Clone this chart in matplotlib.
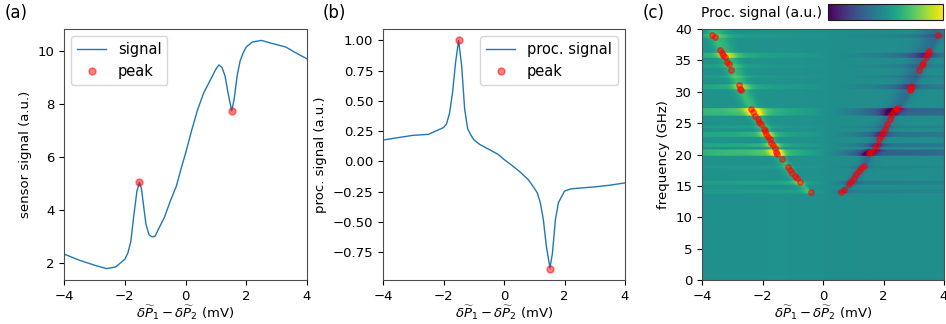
import numpy as np
import matplotlib.pyplot as plt

# panel (a): raw sensor signal
xa = [-4.0, -3.5, -3.0, -2.6, -2.3, -2.0, -1.9, -1.8, -1.7, -1.6, -1.52, -1.45, -1.4, -1.3, -1.2, -1.1,
      -1.0, -0.9, -0.7, -0.5, -0.3, -0.1, 0.0, 0.2, 0.4, 0.6, 0.8, 1.0, 1.1, 1.2, 1.3, 1.4, 1.52,
      1.6, 1.7, 1.8, 1.9, 2.0, 2.2, 2.5, 2.8, 3.0, 3.3, 3.6, 4.0]
ya = [2.32, 2.09, 1.90, 1.77, 1.83, 2.12, 2.35, 2.8, 3.8, 4.7, 5.04, 4.8, 4.33, 3.44, 3.05, 2.97,
      3.0, 3.24, 3.7, 4.33, 4.9, 5.74, 6.13, 7.0, 7.8, 8.43, 8.88, 9.33, 9.49, 9.4, 9.08, 8.43, 7.75,
      8.18, 9.08, 9.65, 9.95, 10.17, 10.36, 10.42, 10.32, 10.26, 10.17, 9.97, 9.72]
peak_a_x = [-1.52, 1.52]
peak_a_y = [5.05, 7.75]

# panel (b): processed signal
xb = [-4.0, -3.5, -3.0, -2.5, -2.0, -1.9, -1.8, -1.7, -1.6, -1.5, -1.4, -1.3, -1.2, -1.1,
      -1.0, -0.8, -0.5, -0.2, 0.0, 0.3, 0.5, 0.8, 1.0, 1.1, 1.2, 1.3, 1.4, 1.52, 1.6, 1.7,
      1.8, 2.0, 2.2, 2.5, 3.0, 3.5, 4.0]
yb = [0.177, 0.197, 0.216, 0.224, 0.28, 0.31, 0.40, 0.57, 0.82, 1.0, 0.79, 0.43, 0.27, 0.22,
      0.18, 0.14, 0.10, 0.06, 0.017, -0.04, -0.08, -0.15, -0.22, -0.26, -0.34, -0.48, -0.70, -0.88, -0.76, -0.48,
      -0.34, -0.245, -0.227, -0.22, -0.21, -0.196, -0.177]
peak_b_x = [-1.5, 1.52]
peak_b_y = [1.0, -0.885]

# panel (c): fitted peak positions
left_x = [-3.66, -3.58, -3.39, -3.34, -3.30, -3.24, -3.16, -3.11, -3.03, -2.79, -2.74, -2.72,
          -2.37, -2.31, -2.24, -2.15, -2.10, -2.04, -1.96, -1.93, -1.87, -1.82, -1.76, -1.71,
          -1.65, -1.60, -1.54, -1.51, -1.36, -1.16, -1.10, -1.02, -0.94, -0.86, -0.77, -0.41]
left_f = [39.0, 38.7, 36.6, 36.2, 35.9, 35.5, 34.8, 34.4, 33.5, 31.0, 30.5, 30.2,
          27.2, 26.8, 26.1, 25.6, 25.2, 24.8, 24.0, 23.7, 23.2, 22.8, 22.4, 21.9,
          21.5, 21.0, 20.4, 20.1, 19.3, 18.0, 17.6, 17.1, 16.6, 16.2, 15.6, 14.0]
right_x = [0.58, 0.68, 0.86, 0.94, 1.01, 1.10, 1.18, 1.27, 1.34, 1.51, 1.60, 1.71, 1.79,
           1.85, 1.91, 1.98, 2.06, 2.13, 2.20, 2.26, 2.34, 2.40, 2.49, 2.86, 2.90, 2.92,
           3.17, 3.26, 3.31, 3.42, 3.46, 3.51, 3.80]
right_f = [14.0, 14.4, 15.3, 15.8, 16.3, 16.9, 17.3, 17.8, 18.2, 20.2, 20.4, 20.8, 21.5,
           22.4, 22.9, 23.6, 24.1, 24.9, 25.7, 26.3, 27.0, 27.2, 27.4, 30.2, 30.5, 30.9,
           33.5, 34.3, 34.6, 35.6, 36.1, 36.5, 39.0]

# frequency bands with stronger response: centre (GHz), half width (GHz), amplitude
band_f = [14.1, 15.6, 18.0, 20.3, 21.5, 23.2, 24.5, 26.6, 27.1, 30.8, 32.4, 34.2, 35.9, 39.0]
band_hw = [0.25, 0.3, 0.2, 0.45, 0.35, 0.35, 0.2, 0.4, 0.3, 0.35, 0.25, 0.3, 0.4, 0.3]
band_amp = [0.3, 0.45, 0.25, 1.0, 0.6, 0.6, 0.3, 0.9, 1.0, 0.5, 0.3, 0.3, 0.6, 0.35]

plt.rcParams['font.size'] = 9.5
plt.rcParams['axes.edgecolor'] = '0.3'

fig = plt.figure(figsize=(9.46, 3.24), dpi=100)
W, H = 946, 324
def box(l, t, r, b):
    return [l / W, 1 - b / H, (r - l) / W, (b - t) / H]

ax1 = fig.add_axes(box(64, 29, 307, 280))
ax2 = fig.add_axes(box(383, 29, 625, 280))
ax3 = fig.add_axes(box(702, 29, 944, 280))
cax = fig.add_axes(box(828, 4, 943, 20))

xlab = r'$\delta\widetilde{P}_1 - \delta\widetilde{P}_2$ (mV)'

ax1.plot(xa, ya, color='C0', lw=1, label='signal')
ax1.plot(peak_a_x, peak_a_y, 'o', color='r', alpha=0.5, ms=5, label='peak')
ax1.set_xlim(-4, 4)
ax1.set_xlabel(xlab, labelpad=1)
ax1.set_ylabel('sensor signal (a.u.)')
ax1.legend(loc='upper left', fontsize=10.5)

ax2.plot(xb, yb, color='C0', lw=1, label='proc. signal')
ax2.plot(peak_b_x, peak_b_y, 'o', color='r', alpha=0.5, ms=5, label='peak')
ax2.set_xlim(-4, 4)
ax2.set_xlabel(xlab, labelpad=1)
ax2.set_ylabel('proc. signal (a.u.)')
ax2.legend(loc='upper right', fontsize=10.5)

# heatmap: row template from panel (b), warped to the peak positions of each row
xs = np.linspace(-4, 4, 161)
fs = np.arange(0.1, 40, 0.2)
lo = np.argsort(left_f)
ro = np.argsort(right_f)
img = np.zeros((len(fs), len(xs)))
for i, f in enumerate(fs):
    amp = 0.06 if f > 13.8 else 0.015
    for bf, bw, ba in zip(band_f, band_hw, band_amp):
        if abs(f - bf) <= bw:
            amp = max(amp, ba)
    if f > 13.8:
        xl = np.interp(f, np.array(left_f)[lo], np.array(left_x)[lo])
        xr = np.interp(f, np.array(right_f)[ro], np.array(right_x)[ro])
        u = np.where(xs < xl, xs - xl - 1.5,
                     np.where(xs > xr, xs - xr + 1.5,
                              -1.5 + 3.0 * (xs - xl) / (xr - xl)))
        prof = np.interp(u, xb, yb)
        # the peaks along the branches stay faintly visible between bands
        tip = np.clip(np.abs(prof) - 0.3, 0, None) * np.sign(prof)
        img[i] = amp * prof + max(0.3 - amp, 0) * tip
    else:
        img[i] = amp * np.interp(xs, xb, yb)

im = ax3.imshow(img, origin='lower', aspect='auto', extent=(-4, 4, 0, 40),
                cmap='viridis', vmin=-0.6, vmax=0.6, interpolation='bilinear')
ax3.plot(left_x, left_f, 'o', color='r', alpha=0.5, ms=4)
ax3.plot(right_x, right_f, 'o', color='r', alpha=0.5, ms=4)
ax3.set_xlim(-4, 4)
ax3.set_ylim(0, 40)
ax3.set_xlabel(xlab, labelpad=1)
ax3.set_ylabel('frequency (GHz)')

cb = fig.colorbar(im, cax=cax, orientation='horizontal')
cb.set_ticks([])
cb.outline.set_edgecolor('0.1')
fig.text(822 / W, 1 - 13 / H, 'Proc. signal (a.u.)', ha='right', va='center', fontsize=10)

fig.text(5 / W, 1 - 13 / H, '(a)', ha='left', va='center', fontsize=12)
fig.text(323 / W, 1 - 13 / H, '(b)', ha='left', va='center', fontsize=12)
fig.text(643 / W, 1 - 13 / H, '(c)', ha='left', va='center', fontsize=12)

fig.savefig('out.png', dpi=100)
